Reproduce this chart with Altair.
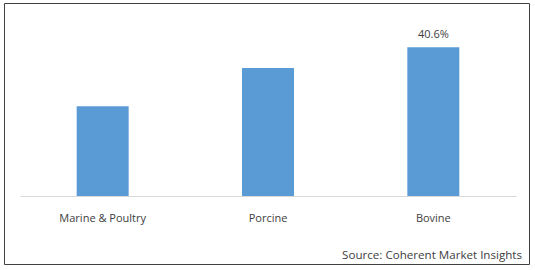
import altair as alt
import pandas as pd

categories = ["Marine & Poultry", "Porcine", "Bovine"]
shares = [24.5, 34.9, 40.6]
bar_labels = ["", "", "40.6%"]
source_text = "Source: Coherent Market Insights"

df = pd.DataFrame({"category": categories, "share": shares, "label": bar_labels})

FONT = "Open Sans"
TXT = "#404040"

x_enc = alt.X("category:N", sort=categories, title=None,
              scale=alt.Scale(paddingInner=0.0, paddingOuter=0.0),
              axis=alt.Axis(labelAngle=0, ticks=False, domainColor="#d9d9d9",
                            labelPadding=16, labelFont=FONT, labelFontSize=11,
                            labelColor=TXT, grid=False))
y_enc = alt.Y("share:Q", scale=alt.Scale(domain=[0, 48], nice=False), axis=None)

base = alt.Chart(df)
bars = base.mark_bar(color="#5b9bd5", size=52).encode(x=x_enc, y=y_enc)
text = base.mark_text(dy=-9, font=FONT, fontSize=11, color=TXT, baseline="alphabetic").encode(
    x=alt.X("category:N", sort=categories), y="share:Q", text="label:N")

border = alt.Chart(pd.DataFrame({"a": [0]})).mark_rect(
    fill=None, stroke="#404040", strokeWidth=1).encode(
    x=alt.value(-15.5), x2=alt.value(509.5), y=alt.value(-16.5), y2=alt.value(244.5))

src = alt.Chart(pd.DataFrame({"t": [source_text]})).mark_text(
    font=FONT, fontSize=11.6, color=TXT, align="right", baseline="alphabetic").encode(
    x=alt.value(502), y=alt.value(239), text="t:N")

chart = alt.layer(bars, text, border, src).properties(
    width=496, height=176,
    autosize=alt.AutoSizeParams(type="none"),
    padding={"left": 20, "top": 20, "right": 19, "bottom": 74},
    background="white",
).configure_view(stroke=None)

chart.save("out.html", embed_options={"renderer": "svg", "actions": False})
